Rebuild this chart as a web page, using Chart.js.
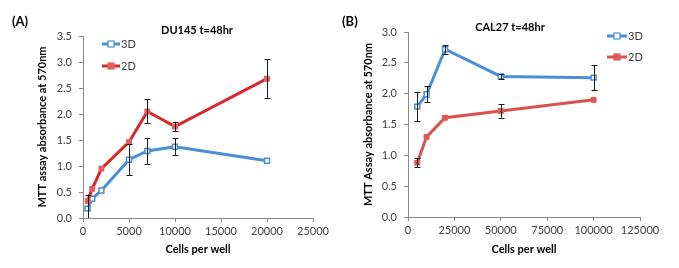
<!DOCTYPE html>
<html>
<head>
<meta charset="utf-8">
<script src="https://cdn.jsdelivr.net/npm/chart.js@4/dist/chart.umd.min.js"></script>
<style>
html,body{margin:0;padding:0;background:#fff;}
#wrap{position:relative;width:679px;height:268px;overflow:hidden;}
canvas{position:absolute;top:0;}
</style>
</head>
<body>
<div id="wrap">
<canvas id="cA" width="340" height="268" style="left:0px"></canvas>
<canvas id="cB" width="339" height="268" style="left:340px"></canvas>
</div>
<script>
// ---- Panel A: DU145 ----
const cellsA = [500, 1000, 2000, 5000, 7000, 10000, 20000];
const a3D    = [0.18, 0.37, 0.53, 1.12, 1.29, 1.37, 1.10];
const a3DErr = [0.27, 0, 0, 0.30, 0.25, 0.16, 0];
const a2D    = [0.33, 0.56, 0.95, 1.46, 2.05, 1.76, 2.68];
const a2DErr = [0, 0, 0, 0, 0.23, 0.09, 0.37];
const xTicksA = [0, 5000, 10000, 15000, 20000, 25000];
const yTicksA = [0, 0.5, 1.0, 1.5, 2.0, 2.5, 3.0, 3.5];

// ---- Panel B: CAL27 ----
const cellsB = [5000, 10000, 20000, 50000, 100000];
const b3D    = [1.79, 1.99, 2.72, 2.28, 2.26];
const b3DErr = [0.23, 0.13, 0.07, 0.04, 0.20];
const b2D    = [0.88, 1.30, 1.61, 1.72, 1.90];
const b2DErr = [0.07, 0, 0, 0.11, 0];
const xTicksB = [0, 25000, 50000, 75000, 100000, 125000];
const yTicksB = [0, 0.5, 1.0, 1.5, 2.0, 2.5, 3.0];

const seriesNames = ['3D', '2D'];
const FONT = 'Lato, "Liberation Sans", sans-serif';
const BLUE = '#4a8ed6';

function pts(xs, ys){ return xs.map((x,i)=>({x:x, y:ys[i]})); }

function makeChart(id, cfg){
  const errPlugin = {
    id: 'extras',
    afterDatasetsDraw(chart){
      const ctx = chart.ctx, xs = chart.scales.x, ys = chart.scales.y, ca = chart.chartArea;
      ctx.save();
      ctx.beginPath(); ctx.rect(ca.left, ca.top - 5, ca.right - ca.left, ca.bottom - ca.top + 5); ctx.clip();
      ctx.strokeStyle = '#1a1a1a'; ctx.lineWidth = 1;
      cfg.errs.forEach((errs, di) => {
        const vals = cfg.vals[di];
        cfg.cells.forEach((c, i) => {
          const e = errs[i]; if (!e) return;
          const px = Math.round(xs.getPixelForValue(c)) + 0.5;
          const top = ys.getPixelForValue(vals[i] + e);
          const bot = ys.getPixelForValue(vals[i] - e);
          ctx.beginPath();
          ctx.moveTo(px, top); ctx.lineTo(px, bot);
          ctx.moveTo(px - 3, Math.round(top)+0.5); ctx.lineTo(px + 3, Math.round(top)+0.5);
          ctx.moveTo(px - 3, Math.round(bot)+0.5); ctx.lineTo(px + 3, Math.round(bot)+0.5);
          ctx.stroke();
        });
      });
      ctx.restore();
    },
    afterDraw(chart){
      const ctx = chart.ctx;
      ctx.save();
      // panel label
      ctx.fillStyle = '#000';
      ctx.font = 'bold 13px ' + FONT;
      ctx.textBaseline = 'middle'; ctx.textAlign = 'left';
      ctx.fillText(cfg.panel, cfg.panelX, 22);
      // title
      ctx.font = 'bold 11px ' + FONT;
      ctx.textAlign = 'center';
      ctx.fillText(cfg.title, cfg.titleX, cfg.titleY);
      // legend
      ctx.font = '11px ' + FONT;
      ctx.textAlign = 'left';
      chart.data.datasets.forEach((ds) => {
        const k = seriesNames.indexOf(ds.label);
        const y = cfg.legY[k];
        const x0 = cfg.legX, x1 = cfg.legX + cfg.legW;
        ctx.strokeStyle = ds.borderColor; ctx.lineWidth = 3;
        ctx.beginPath(); ctx.moveTo(x0, y); ctx.lineTo(x1, y); ctx.stroke();
        const m = (x0 + x1) / 2;
        ctx.fillStyle = ds.pointBackgroundColor;
        ctx.fillRect(m - 3, y - 3, 6, 6);
        ctx.strokeStyle = ds.pointBorderColor; ctx.lineWidth = 1.2;
        ctx.strokeRect(m - 3, y - 3, 6, 6);
        ctx.fillStyle = '#404040';
        ctx.fillText(ds.label, x1 + 1, y + 0.5);
      });
      ctx.restore();
    }
  };

  return new Chart(document.getElementById(id), {
    type: 'line',
    data: {
      datasets: [
        { label: '2D', data: pts(cfg.cells, cfg.vals[1]), borderColor: cfg.red, borderWidth: 3,
          pointStyle: 'rect', pointRadius: 3.5, pointBackgroundColor: cfg.redMarker, pointBorderColor: cfg.redMarker,
          pointBorderWidth: 1, tension: 0, order: 0 },
        { label: '3D', data: pts(cfg.cells, cfg.vals[0]), borderColor: BLUE, borderWidth: 3,
          pointStyle: 'rect', pointRadius: 3.5, pointBackgroundColor: '#ffffff', pointBorderColor: BLUE,
          pointBorderWidth: 1.5, tension: 0, order: 1 }
      ]
    },
    options: {
      responsive: false, animation: false, devicePixelRatio: 1,
      layout: { padding: { left: cfg.padLeft, top: cfg.padTop, right: cfg.padRight, bottom: 8 } },
      plugins: { legend: { display: false }, tooltip: { enabled: false }, title: { display: false } },
      scales: {
        x: {
          type: 'linear', min: cfg.xTicks[0], max: cfg.xTicks[cfg.xTicks.length-1],
          afterBuildTicks: (s) => { s.ticks = cfg.xTicks.map(v => ({value: v})); },
          afterFit: (s) => { s.height = cfg.xH; },
          grid: { drawOnChartArea: false, drawTicks: true, tickLength: 4, color: '#888888' },
          border: { color: '#888888', width: 1 },
          ticks: { color: '#404040', font: { family: FONT, size: 11 }, padding: 3, maxRotation: 0,
                   callback: (v) => String(v) },
          title: { display: true, text: 'Cells per well', color: '#000', font: { family: FONT, size: 11, weight: 'bold' }, padding: { top: 4, bottom: 4 } }
        },
        y: {
          type: 'linear', min: cfg.yTicks[0], max: cfg.yTicks[cfg.yTicks.length-1],
          afterBuildTicks: (s) => { s.ticks = cfg.yTicks.map(v => ({value: v})); },
          afterFit: (s) => { s.width = cfg.yW; },
          grid: { drawOnChartArea: false, drawTicks: true, tickLength: 4, color: '#888888' },
          border: { color: '#888888', width: 1 },
          ticks: { color: '#404040', font: { family: FONT, size: 11 }, padding: 7, callback: (v) => Number(v).toFixed(1) },
          title: { display: true, text: cfg.yTitle, color: '#000', font: { family: FONT, size: 11, weight: 'bold' }, padding: { top: 4, bottom: 4 } }
        }
      }
    },
    plugins: [errPlugin]
  });
}

makeChart('cA', {
  cells: cellsA, vals: [a3D, a2D], errs: [a3DErr, a2DErr],
  xTicks: xTicksA, yTicks: yTicksA,
  red: '#d7282d', redMarker: '#e06060',
  yTitle: 'MTT assay absorbance at 570nm',
  panel: '(A)', panelX: 12, title: 'DU145 t=48hr', titleX: 197, titleY: 30,
  legX: 102, legW: 18, legY: [44, 66],
  padLeft: 32, padTop: 36, padRight: 27, xH: 42, yW: 51
});

makeChart('cB', {
  cells: cellsB, vals: [b3D, b2D], errs: [b3DErr, b2DErr],
  xTicks: xTicksB, yTicks: yTicksB,
  red: '#d9524e', redMarker: '#dd5a56',
  yTitle: 'MTT Assay absorbance at 570nm',
  panel: '(B)', panelX: 2, title: 'CAL27 t=48hr', titleX: 170, titleY: 27,
  legX: 267, legW: 20, legY: [36, 57],
  padLeft: 18, padTop: 32, padRight: 39, xH: 43, yW: 50
});
</script>
</body>
</html>
